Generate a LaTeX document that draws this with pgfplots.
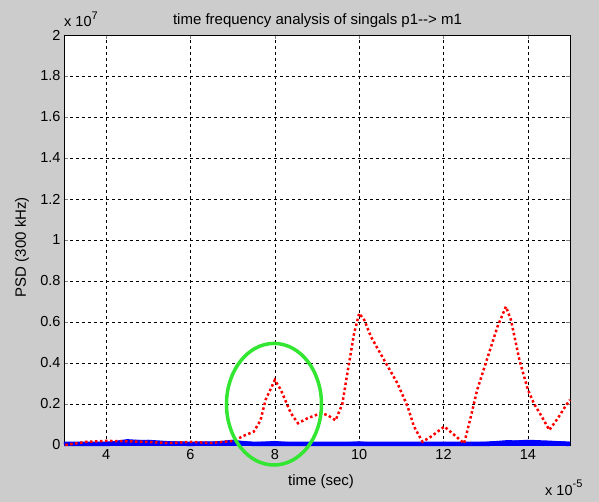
\documentclass[border=0pt]{standalone}
\usepackage{fontspec}
\setmainfont{Liberation Sans}
\usepackage{pgfplots}
\pgfplotsset{compat=1.18}
\definecolor{figgray}{rgb}{0.8,0.8,0.8}
\definecolor{ellgreen}{RGB}{50,230,50}
\begin{document}
\begin{tikzpicture}
\fill[figgray] (0,0) rectangle (599bp,502bp);
\begin{axis}[
  at={(64bp,57bp)}, anchor=south west,
  scale only axis, width=506bp, height=410bp,
  xmin=3, xmax=15, ymin=0, ymax=2,
  xtick={4,6,...,14}, ytick={0,0.2,...,2},
  yticklabel style={/pgf/number format/fixed,/pgf/number format/precision=1},
  /pgf/number format/assume math mode=true,
  tick label style={font=\fontsize{14.5bp}{16bp}\selectfont},
  xticklabel style={yshift=-1bp},
  tick align=inside, major tick length=4bp,
  axis background/.style={fill=white},
  axis line style={black, line width=0.8bp},
  grid=major, major grid style={black, line width=0.6bp, dash pattern=on 3bp off 3bp},
  clip=false,
]
\addplot[blue, line width=4.5bp] coordinates {(3,0.005) (4,0.006) (5,0.007) (6,0.006) (7,0.007) (8,0.005) (9,0.005) (10,0.006) (11,0.005) (12,0.006) (13,0.006) (14,0.007) (15,0.006)};
\addplot[blue, line width=1.5bp] coordinates {(3,0.01) (3.5,0.01) (4,0.012) (4.5,0.02) (5,0.022) (5.5,0.015) (6,0.01) (6.5,0.012) (7,0.02) (7.5,0.008) (8,0.012) (8.5,0.006) (9,0.005) (9.5,0.008) (10,0.014) (10.5,0.006) (11,0.008) (11.5,0.01) (12,0.008) (12.5,0.006) (13,0.01) (13.5,0.016) (14,0.022) (14.5,0.018) (15,0.012)};
\addplot[blue, line width=1.5bp] coordinates {(3,0.006) (3.5,0.008) (4,0.01) (4.5,0.025) (5,0.018) (5.5,0.012) (6,0.008) (6.5,0.01) (7,0.022) (7.5,0.01) (8,0.016) (8.5,0.008) (9,0.006) (9.5,0.01) (10,0.01) (10.5,0.008) (11,0.01) (11.5,0.007) (12,0.01) (12.5,0.008) (13,0.012) (13.5,0.02) (14,0.018) (14.5,0.014) (15,0.01)};
\addplot[blue, line width=1.5bp] coordinates {(3,0.004) (3.5,0.005) (4,0.006) (4.5,0.015) (5,0.012) (5.5,0.008) (6,0.005) (6.5,0.006) (7,0.012) (7.5,0.006) (8,0.008) (8.5,0.004) (9,0.005) (9.5,0.006) (10,0.008) (10.5,0.004) (11,0.006) (11.5,0.005) (12,0.006) (12.5,0.004) (13,0.008) (13.5,0.012) (14,0.015) (14.5,0.01) (15,0.008)};
\addplot[red, line width=2.5bp, dash pattern=on 2.5bp off 2.5bp] coordinates {
(3.03,0) (3.55,0.016) (4.0,0.02) (4.5,0.018) (4.97,0.015) (5.5,0.01) (6.0,0.015) (6.47,0.01) (7.03,0.02) (7.25,0.044) (7.5,0.065) (7.66,0.12) (7.78,0.22) (8.0,0.317) (8.14,0.27) (8.38,0.155) (8.55,0.106) (8.77,0.13) (9.09,0.155) (9.25,0.146) (9.44,0.12) (9.6,0.2) (9.72,0.35) (9.88,0.545) (10.0,0.642) (10.12,0.61) (10.28,0.528) (10.59,0.415) (10.91,0.3) (11.15,0.187) (11.3,0.09) (11.5,0.016) (11.7,0.04) (12.02,0.09) (12.25,0.05) (12.49,0.008) (12.65,0.14) (12.8,0.27) (13.05,0.43) (13.28,0.577) (13.48,0.675) (13.6,0.61) (13.8,0.415) (14.0,0.27) (14.15,0.2) (14.31,0.146) (14.51,0.073) (14.71,0.13) (14.91,0.195) (15,0.22)};
\draw[ellgreen, line width=3.5bp] (axis cs:7.98,0.199) ellipse [x radius=47.5bp, y radius=60.8bp];
\end{axis}
\node[font=\fontsize{15bp}{17bp}\selectfont, anchor=base, inner sep=0pt] at (317.5bp,477bp) {time frequency analysis of singals p1-{}-> m1};
\node[font=\fontsize{15bp}{17bp}\selectfont, anchor=base, inner sep=0pt] at (321bp,17bp) {time (sec)};
\node[font=\fontsize{15bp}{17bp}\selectfont, rotate=90] at (22bp,255bp) {PSD (300 kHz)};
\node[font=\fontsize{14.5bp}{16bp}\selectfont, anchor=base west, inner sep=0pt] at (64bp,475bp) {x 10\raisebox{0.55em}{\fontsize{11bp}{12bp}\selectfont 7}};
\node[font=\fontsize{14.5bp}{16bp}\selectfont, anchor=base west, inner sep=0pt] at (545bp,7bp) {x 10\raisebox{0.55em}{\fontsize{11bp}{12bp}\selectfont -5}};
\end{tikzpicture}
\end{document}
